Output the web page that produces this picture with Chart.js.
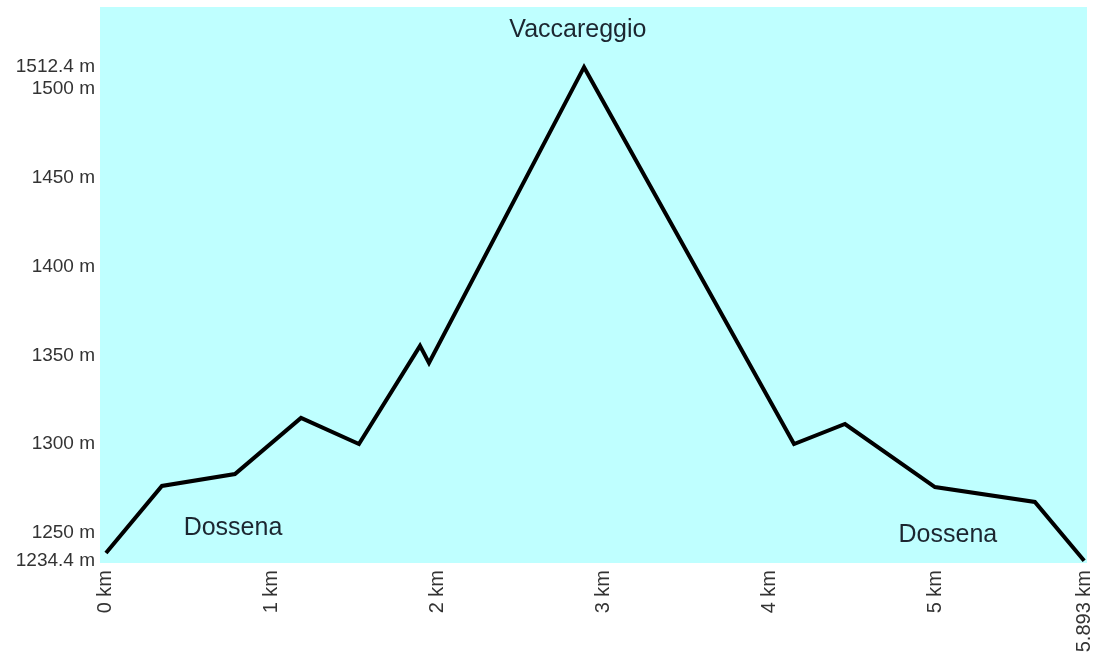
<!DOCTYPE html>
<html>
<head>
<meta charset="utf-8">
<script src="https://cdn.jsdelivr.net/npm/chart.js@4/dist/chart.umd.min.js"></script>
<style>
  html, body { margin: 0; padding: 0; background: #ffffff; }
  #wrap { width: 1103px; height: 666px; position: relative; }
</style>
</head>
<body>
<div id="wrap"><canvas id="c" width="1103" height="666"></canvas></div>
<script>
// ---- Data ----
const distanceKm = [0, 0.337, 0.777, 1.175, 1.524, 1.892, 1.946, 2.880, 4.145, 4.452, 4.994, 5.596, 5.893];
const elevationM = [1238.7, 1276.5, 1283.2, 1314.8, 1300.1, 1355.4, 1345.8, 1512.4, 1300.1, 1311.4, 1275.9, 1267.5, 1234.4];

const xTickValues = [0, 1, 2, 3, 4, 5, 5.893];
const xTickLabels = ['0 km', '1 km', '2 km', '3 km', '4 km', '5 km', '5.893 km'];
const yTickValues = [1234.4, 1250, 1300, 1350, 1400, 1450, 1500, 1512.4];
const yTickLabels = ['1234.4 m', '1250 m', '1300 m', '1350 m', '1400 m', '1450 m', '1500 m', '1512.4 m'];

const placeNames = ['Vaccareggio', 'Dossena', 'Dossena'];
const placeKm = [2.843, 0.765, 5.072];
const placeElev = [1533.4, 1252.8, 1248.9];

// ---- Chart ----
const FONT = "'Liberation Sans', Arial, sans-serif";

const bgPlugin = {
  id: 'plotBg',
  beforeDraw(chart) {
    const { ctx, chartArea: a } = chart;
    ctx.save();
    ctx.fillStyle = '#bfffff';
    ctx.fillRect(a.left, a.top, a.right - a.left, a.bottom - a.top);
    ctx.restore();
  }
};

const labelPlugin = {
  id: 'placeLabels',
  afterDatasetsDraw(chart) {
    const { ctx, scales } = chart;
    ctx.save();
    ctx.font = '25px ' + FONT;
    ctx.fillStyle = '#1c2630';
    ctx.textAlign = 'center';
    ctx.textBaseline = 'middle';
    placeNames.forEach((name, i) => {
      ctx.fillText(name, scales.x.getPixelForValue(placeKm[i]), scales.y.getPixelForValue(placeElev[i]));
    });
    ctx.restore();
  }
};

const points = distanceKm.map((d, i) => ({ x: d, y: elevationM[i] }));

new Chart(document.getElementById('c'), {
  type: 'scatter',
  data: {
    datasets: [{
      data: points,
      showLine: true,
      borderColor: '#000000',
      borderWidth: 4,
      pointRadius: 0,
      pointHoverRadius: 0,
      tension: 0,
      borderJoinStyle: 'miter',
      fill: false
    }]
  },
  options: {
    responsive: false,
    animation: false,
    devicePixelRatio: 1,
    layout: { padding: { left: 0, top: 7, right: 16, bottom: 0 } },
    plugins: {
      legend: { display: false },
      tooltip: { enabled: false }
    },
    scales: {
      x: {
        type: 'linear',
        min: -0.036,
        max: 5.910,
        grid: { display: false, drawTicks: false },
        border: { display: false },
        afterBuildTicks(scale) {
          scale.ticks = xTickValues.map(v => ({ value: v }));
        },
        afterFit(scale) {
          scale.height = 103;
          scale.paddingLeft = 0;
          scale.paddingRight = 0;
        },
        ticks: {
          autoSkip: false,
          minRotation: 90,
          maxRotation: 90,
          padding: 7,
          color: '#333333',
          font: { family: FONT, size: 20 },
          callback(value) {
            const i = xTickValues.indexOf(value);
            return i >= 0 ? xTickLabels[i] : '';
          }
        }
      },
      y: {
        type: 'linear',
        min: 1233.1,
        max: 1546.3,
        grid: { display: false, drawTicks: false },
        border: { display: false },
        afterBuildTicks(scale) {
          scale.ticks = yTickValues.map(v => ({ value: v }));
        },
        afterFit(scale) {
          scale.width = 100;
          scale.paddingTop = 0;
          scale.paddingBottom = 0;
        },
        ticks: {
          autoSkip: false,
          padding: 5,
          color: '#333333',
          font: { family: FONT, size: 19 },
          callback(value) {
            const i = yTickValues.indexOf(value);
            return i >= 0 ? yTickLabels[i] : '';
          }
        }
      }
    }
  },
  plugins: [bgPlugin, labelPlugin]
});
</script>
</body>
</html>
